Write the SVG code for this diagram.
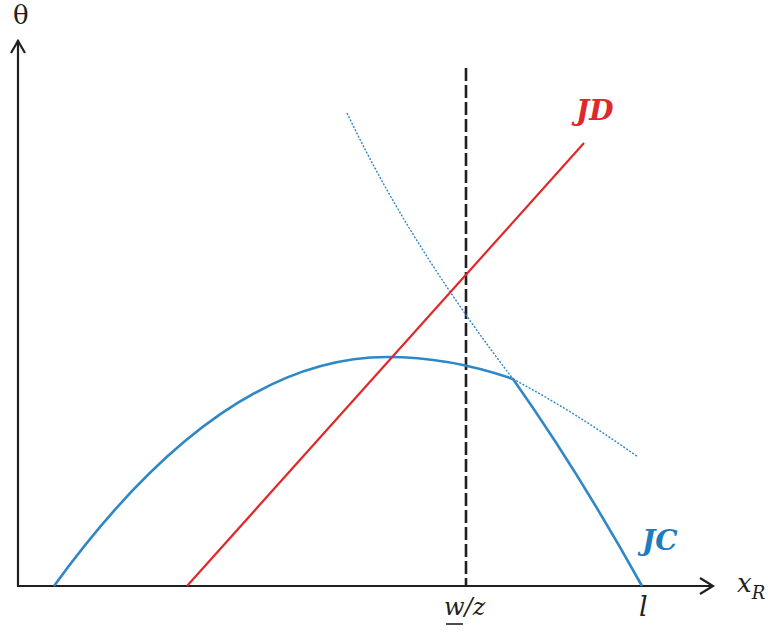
<svg xmlns="http://www.w3.org/2000/svg" width="768" height="636" viewBox="0 0 768 636">
<style>
.axis{stroke:#231f20;stroke-width:2.2;fill:none}
.jc{stroke:#2e87c6;stroke-width:2.6;fill:none}
.dot{stroke:#2e87c6;stroke-width:1.4;fill:none;stroke-dasharray:2 1.6}
.jd{stroke:#e0282a;stroke-width:2.2;fill:none}
.dash{stroke:#231f20;stroke-width:2.6;fill:none;stroke-dasharray:13 4}
text{font-family:'DejaVu Serif',serif}
.lbl{fill:#231f20}
.it{font-style:italic}
.big{font-style:italic;font-weight:bold;font-size:28px}
</style>
<rect width="768" height="636" fill="#fff"/>
<g id="connectors">
<g id="axes">
<polyline class="axis" points="18,40 18,586 713,586"/>
<polyline class="axis" points="11,53 18,41 25,53"/>
<polyline class="axis" points="700,578 713,586 700,594"/>
</g>
<line id="wz-line" class="dash" x1="466" y1="68" x2="466" y2="586"/>
<path id="dotted-upper" class="dot" d="M347,113 C397,218 458,307 513,379"/>
<path id="dotted-lower" class="dot" d="M513,379 Q575,412 638,457"/>
</g>
<g id="JC">
<path class="jc" d="M54,586 Q220,357 387,357 Q450,357 513,379 Q578,471 642,586"/>
<text class="big" x="642" y="550" fill="#1f7cbf">JC</text>
</g>
<g id="JD">
<line class="jd" x1="187" y1="586" x2="584" y2="143"/>
<text class="big" x="576" y="120" fill="#e0282a">JD</text>
</g>
<g id="labels">
<text class="lbl" x="13" y="24" font-size="26">θ</text>
<text class="lbl it" x="737" y="592" font-size="26">x<tspan font-size="18" dy="7">R</tspan></text>
<text class="lbl it" x="444" y="615" font-size="24">w/z</text>
<line x1="446" y1="624" x2="463" y2="624" stroke="#231f20" stroke-width="1.6"/>
<text class="lbl it" x="639" y="616" font-size="27">l</text>
</g>
</svg>
